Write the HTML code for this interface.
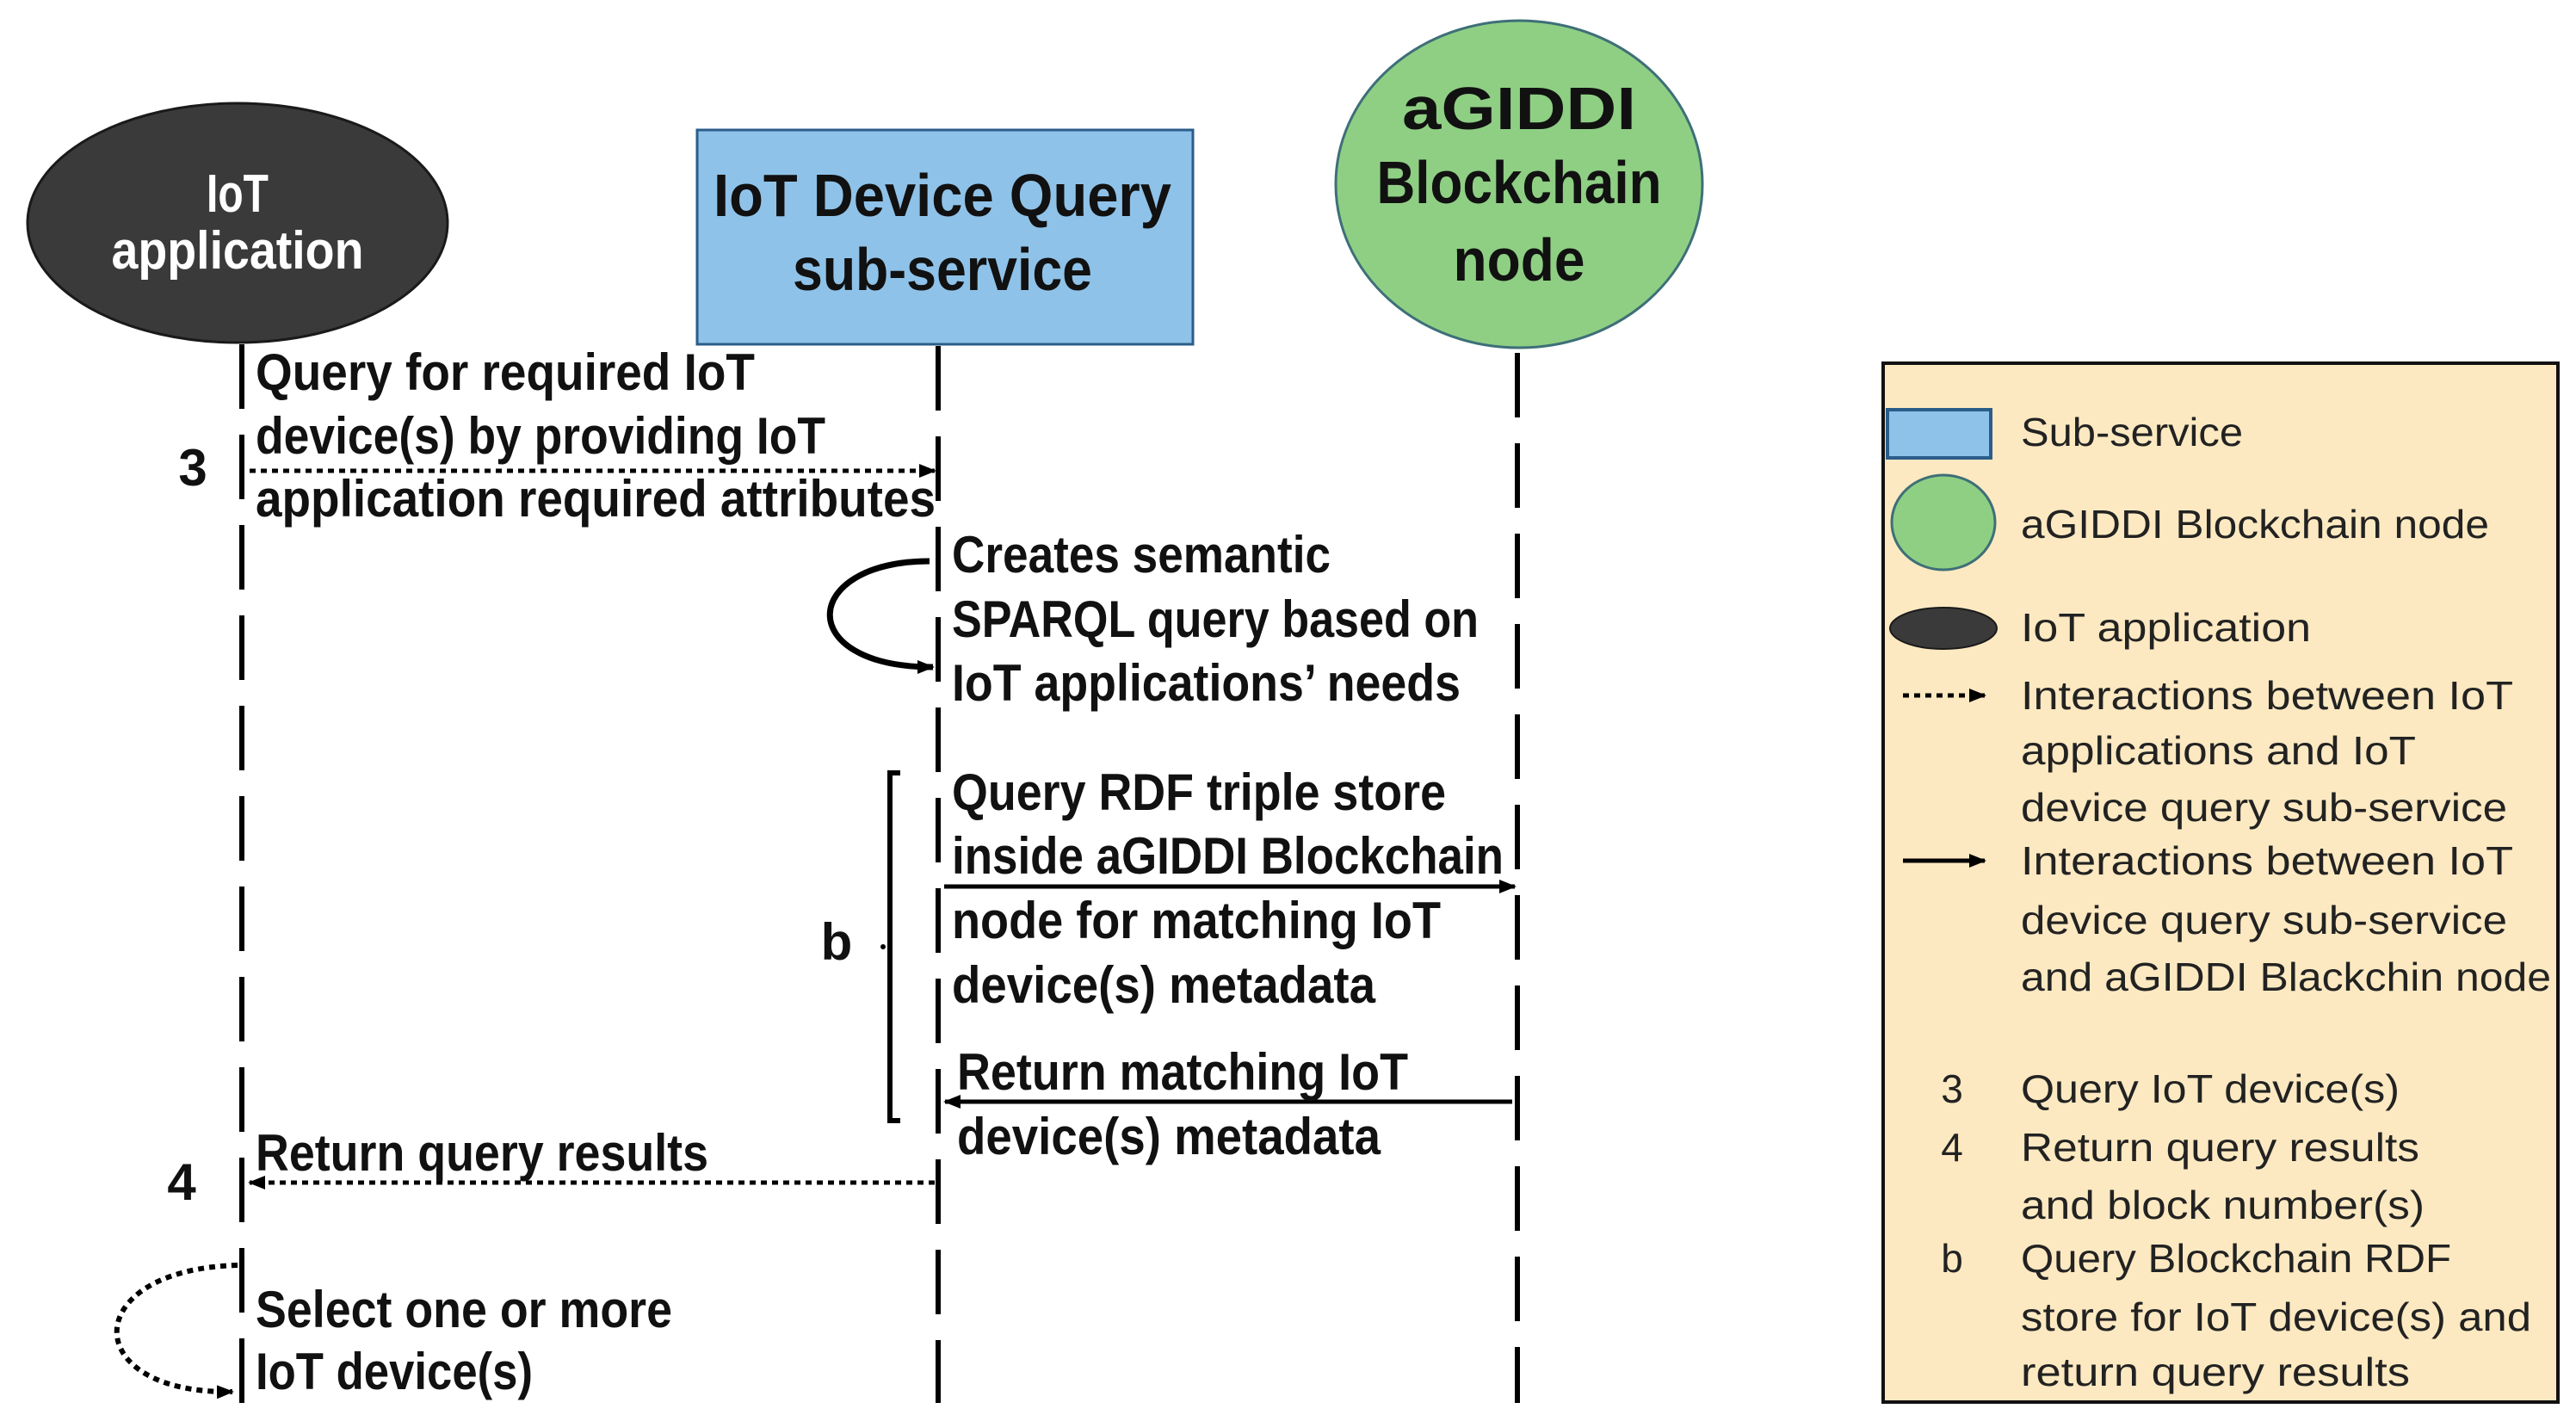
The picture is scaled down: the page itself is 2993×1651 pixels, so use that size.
<!DOCTYPE html>
<html><head><meta charset="utf-8"><style>html,body{margin:0;padding:0;background:#fff}svg{display:block}</style></head>
<body>
<svg width="2993" height="1651" viewBox="0 0 2993 1651" xmlns="http://www.w3.org/2000/svg" font-family="'Liberation Sans', sans-serif">
<defs>
<marker id="ah" markerWidth="20" markerHeight="16" refX="18" refY="8" orient="auto" markerUnits="userSpaceOnUse"><path d="M0,0 L20,8 L0,16 z" fill="#000"/></marker>
</defs>
<!-- Nodes -->
<ellipse cx="276" cy="259" rx="244" ry="139" fill="#3a3a3a" stroke="#1a1a1a" stroke-width="3"/>
<text x="276" y="246" font-size="62" font-weight="bold" fill="#fff" text-anchor="middle" textLength="72" lengthAdjust="spacingAndGlyphs">IoT</text>
<text x="276" y="312" font-size="62" font-weight="bold" fill="#fff" text-anchor="middle" textLength="293" lengthAdjust="spacingAndGlyphs">application</text>

<rect x="810" y="151" width="576" height="249" fill="#8fc2e8" stroke="#2b5d8a" stroke-width="3"/>
<text x="1095" y="251" font-size="70" font-weight="bold" fill="#111" text-anchor="middle" textLength="532" lengthAdjust="spacingAndGlyphs">IoT Device Query</text>
<text x="1095" y="337" font-size="70" font-weight="bold" fill="#111" text-anchor="middle" textLength="348" lengthAdjust="spacingAndGlyphs">sub-service</text>

<ellipse cx="1765" cy="214" rx="213" ry="190" fill="#8fcf84" stroke="#3e6f78" stroke-width="3"/>
<text x="1765" y="150" font-size="70" font-weight="bold" fill="#111" text-anchor="middle" textLength="272" lengthAdjust="spacingAndGlyphs">aGIDDI</text>
<text x="1765" y="236" font-size="70" font-weight="bold" fill="#111" text-anchor="middle" textLength="331" lengthAdjust="spacingAndGlyphs">Blockchain</text>
<text x="1765" y="326" font-size="70" font-weight="bold" fill="#111" text-anchor="middle" textLength="153" lengthAdjust="spacingAndGlyphs">node</text>

<!-- Lifelines -->
<g stroke="#000" stroke-width="6" fill="none">
<line x1="281" y1="400" x2="281" y2="1630" stroke-dasharray="75 30"/>
<line x1="1090" y1="402" x2="1090" y2="1630" stroke-dasharray="75 30"/>
<line x1="1763" y1="410" x2="1763" y2="1630" stroke-dasharray="75 30"/>
</g>

<!-- Messages -->
<g fill="none" stroke="#000">
<line x1="290" y1="547" x2="1086" y2="547" stroke-width="5" stroke-dasharray="7 6" marker-end="url(#ah)"/>
<path d="M1080,652 C930,652 920,775 1084,775" stroke-width="7" marker-end="url(#ah)"/>
<line x1="1097" y1="1030" x2="1760" y2="1030" stroke-width="5" marker-end="url(#ah)"/>
<line x1="1757" y1="1280" x2="1098" y2="1280" stroke-width="5" marker-end="url(#ah)"/>
<line x1="1086" y1="1374" x2="290" y2="1374" stroke-width="5" stroke-dasharray="7 6" marker-end="url(#ah)"/>
<path d="M276,1470 C90,1475 90,1620 270,1617" stroke-width="6" stroke-dasharray="7 6" marker-end="url(#ah)"/>
<path d="M1046,898 L1034,898 L1034,1302 L1046,1302" stroke-width="6"/>
</g>
<circle cx="1026" cy="1100" r="3" fill="#000"/>

<!-- Labels -->
<g font-size="60" font-weight="bold" fill="#111">
<text x="297" y="453" textLength="580" lengthAdjust="spacingAndGlyphs">Query for required IoT</text>
<text x="297" y="527" textLength="662" lengthAdjust="spacingAndGlyphs">device(s) by providing IoT</text>
<text x="297" y="600" textLength="790" lengthAdjust="spacingAndGlyphs">application required attributes</text>
<text x="224" y="564" text-anchor="middle">3</text>
<text x="1106" y="665" textLength="440" lengthAdjust="spacingAndGlyphs">Creates semantic</text>
<text x="1106" y="740" textLength="612" lengthAdjust="spacingAndGlyphs">SPARQL query based on</text>
<text x="1106" y="814" textLength="591" lengthAdjust="spacingAndGlyphs">IoT applications’ needs</text>
<text x="1106" y="941" textLength="574" lengthAdjust="spacingAndGlyphs">Query RDF triple store</text>
<text x="1106" y="1015" textLength="641" lengthAdjust="spacingAndGlyphs">inside aGIDDI Blockchain</text>
<text x="1106" y="1090" textLength="568" lengthAdjust="spacingAndGlyphs">node for matching IoT</text>
<text x="1106" y="1165" textLength="492" lengthAdjust="spacingAndGlyphs">device(s) metadata</text>
<text x="1112" y="1266" textLength="524" lengthAdjust="spacingAndGlyphs">Return matching IoT</text>
<text x="1112" y="1341" textLength="492" lengthAdjust="spacingAndGlyphs">device(s) metadata</text>
<text x="972" y="1115" text-anchor="middle">b</text>
<text x="297" y="1360" textLength="526" lengthAdjust="spacingAndGlyphs">Return query results</text>
<text x="211" y="1394" text-anchor="middle">4</text>
<text x="297" y="1542" textLength="484" lengthAdjust="spacingAndGlyphs">Select one or more</text>
<text x="297" y="1614" textLength="322" lengthAdjust="spacingAndGlyphs">IoT device(s)</text>
</g>

<!-- Legend -->
<rect x="2188" y="422" width="784" height="1207" fill="#fde9c1" stroke="#111" stroke-width="4"/>
<rect x="2193" y="476" width="120" height="56" fill="#8fc2e8" stroke="#2b5d8a" stroke-width="4"/>
<ellipse cx="2258" cy="607" rx="60" ry="55" fill="#8fcf84" stroke="#3e6f78" stroke-width="3"/>
<ellipse cx="2258" cy="730" rx="62" ry="24" fill="#3a3a3a" stroke="#1a1a1a" stroke-width="2"/>
<line x1="2211" y1="808" x2="2306" y2="808" stroke="#000" stroke-width="5" stroke-dasharray="7 6" marker-end="url(#ah)"/>
<line x1="2211" y1="1000" x2="2306" y2="1000" stroke="#000" stroke-width="5" marker-end="url(#ah)"/>
<g font-size="46" fill="#222">
<text x="2348" y="518" textLength="258" lengthAdjust="spacingAndGlyphs">Sub-service</text>
<text x="2348" y="625" textLength="544" lengthAdjust="spacingAndGlyphs">aGIDDI Blockchain node</text>
<text x="2348" y="745" textLength="337" lengthAdjust="spacingAndGlyphs">IoT application</text>
<text x="2348" y="824" textLength="572" lengthAdjust="spacingAndGlyphs">Interactions between IoT</text>
<text x="2348" y="888" textLength="459" lengthAdjust="spacingAndGlyphs">applications and IoT</text>
<text x="2348" y="954" textLength="565" lengthAdjust="spacingAndGlyphs">device query sub-service</text>
<text x="2348" y="1016" textLength="572" lengthAdjust="spacingAndGlyphs">Interactions between IoT</text>
<text x="2348" y="1085" textLength="565" lengthAdjust="spacingAndGlyphs">device query sub-service</text>
<text x="2348" y="1151" textLength="616" lengthAdjust="spacingAndGlyphs">and aGIDDI Blackchin node</text>
<text x="2268" y="1281" text-anchor="middle">3</text>
<text x="2348" y="1281" textLength="440" lengthAdjust="spacingAndGlyphs">Query IoT device(s)</text>
<text x="2268" y="1349" text-anchor="middle">4</text>
<text x="2348" y="1349" textLength="463" lengthAdjust="spacingAndGlyphs">Return query results</text>
<text x="2348" y="1416" textLength="469" lengthAdjust="spacingAndGlyphs">and block number(s)</text>
<text x="2268" y="1478" text-anchor="middle">b</text>
<text x="2348" y="1478" textLength="500" lengthAdjust="spacingAndGlyphs">Query Blockchain RDF</text>
<text x="2348" y="1546" textLength="593" lengthAdjust="spacingAndGlyphs">store for IoT device(s) and</text>
<text x="2348" y="1610" textLength="452" lengthAdjust="spacingAndGlyphs">return query results</text>
</g>
</svg>
</body></html>
